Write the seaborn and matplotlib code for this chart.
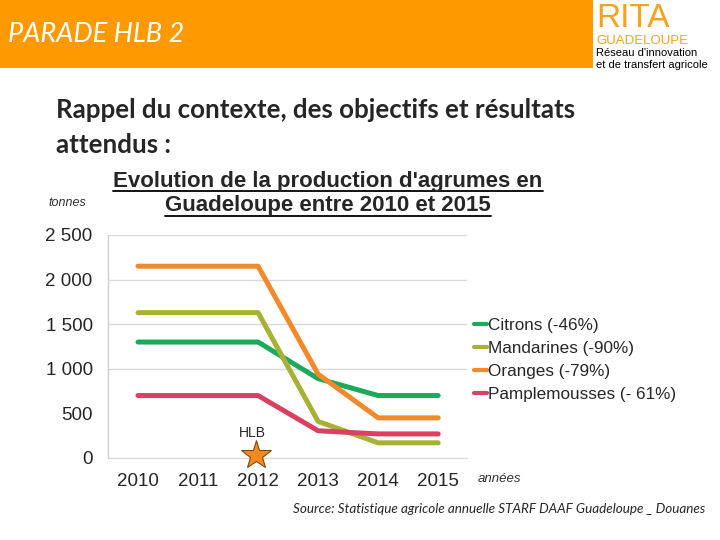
import matplotlib
matplotlib.use("Agg")
import matplotlib.pyplot as plt
from matplotlib.patches import Rectangle
from matplotlib.lines import Line2D
import seaborn as sns
import pandas as pd

years = [2010, 2011, 2012, 2013, 2014, 2015]
citrons = [1300, 1300, 1300, 890, 700, 700]
mandarines = [1630, 1630, 1630, 410, 170, 170]
oranges = [2150, 2150, 2150, 940, 450, 450]
pamplemousses = [700, 700, 700, 305, 270, 270]
series_names = ["Citrons (-46%)", "Mandarines (-90%)", "Oranges (-79%)", "Pamplemousses (- 61%)"]
colors = ["#1BA95C", "#A7B135", "#F2892A", "#DB3F62"]
ytick_values = [0, 500, 1000, 1500, 2000, 2500]
ytick_labels = ["0", "500", "1 000", "1 500", "2 000", "2 500"]
grid_values = [1000, 1500, 2000, 2500]
hlb_year = 2012

rows = []
for name, vals in zip(series_names, [citrons, mandarines, oranges, pamplemousses]):
    for y, v in zip(years, vals):
        rows.append({"year": y, "value": v, "series": name})
df = pd.DataFrame(rows)

sns.set_theme(style="white")
plt.rcParams["font.family"] = ["Liberation Sans", "DejaVu Sans"]

fig = plt.figure(figsize=(7.2, 5.4), dpi=100)
fig.patch.set_facecolor("white")

# header band
fig.patches.append(Rectangle((0, 1 - 68 / 540), 593 / 720, 68 / 540,
                             transform=fig.transFigure, facecolor="#FF9900",
                             edgecolor="none", zorder=0))
fig.text(8 / 720, 1 - 35 / 540, "PARADE HLB 2", color="white", fontsize=19.5,
         family="Lato", style="italic", va="center", ha="left")

# logo
fig.text(596 / 720, 1 - 27 / 540, "RITA", color="#F7A21B", fontsize=24,
         family="Liberation Sans", va="baseline", ha="left")
fig.text(596 / 720, 1 - 44 / 540, "GUADELOUPE", color="#F7A21B", fontsize=9.5,
         family="Liberation Sans", va="baseline", ha="left")
fig.text(596 / 720, 1 - 56 / 540, "Réseau d'innovation", color="black", fontsize=8,
         family="Liberation Sans", va="baseline", ha="left")
fig.text(596 / 720, 1 - 68 / 540, "et de transfert agricole", color="black", fontsize=8,
         family="Liberation Sans", va="baseline", ha="left")

fig.text(56 / 720, 1 - 110 / 540, "Rappel du contexte, des objectifs et résultats",
         fontsize=18.6, family="Lato", fontweight="bold", va="center", ha="left")
fig.text(56 / 720, 1 - 145 / 540, "attendus :",
         fontsize=18.6, family="Lato", fontweight="bold", va="center", ha="left")

t1 = fig.text(328 / 720, 1 - 181 / 540, "Evolution de la production d'agrumes en",
              fontsize=16, fontweight="bold", va="center", ha="center")
t2 = fig.text(328 / 720, 1 - 206 / 540, "Guadeloupe entre 2010 et 2015",
              fontsize=16, fontweight="bold", va="center", ha="center")

ax = fig.add_axes([108 / 720, 1 - 458 / 540, (467 - 108) / 720, (458 - 235) / 540])
sns.lineplot(data=df, x="year", y="value", hue="series", palette=colors,
             linewidth=3.6, ax=ax, legend=False)
ax.set_xlim(2009.5, 2015.48)
ax.set_ylim(0, 2500)
ax.set_xticks(years)
ax.set_xticklabels([str(y) for y in years], fontsize=13.5)
ax.set_yticks(ytick_values)
ax.set_yticklabels(ytick_labels, fontsize=13.5)
ax.tick_params(axis="both", length=0)
ax.tick_params(axis="y", pad=11)
ax.tick_params(axis="x", pad=11)
ax.set_xlabel("")
ax.set_ylabel("")
for gv in grid_values:
    ax.axhline(gv, color="#D9D9D9", linewidth=1, zorder=0)
for side in ["top", "right"]:
    ax.spines[side].set_visible(False)
ax.spines["left"].set_color("#D0D0D0")
ax.spines["bottom"].set_color("#D9D9D9")
ax.spines["left"].set_linewidth(1)
ax.spines["bottom"].set_linewidth(1)

# HLB marker
ax.plot([hlb_year - 0.04], [30], marker="*", markersize=22, color="#F7881F",
        markeredgecolor="#7A4A10", markeredgewidth=0.8, clip_on=False, zorder=5)
ax.text(hlb_year - 0.09, 280, "HLB", fontsize=10, ha="center", va="center")

handles = [Line2D([0], [0], color=c, linewidth=3) for c in colors]
fig.legend(handles, series_names, loc="center left",
           bbox_to_anchor=(474 / 720, 1 - 360 / 540), frameon=False,
           fontsize=12.3, handlelength=0.75, handletextpad=0.05, labelspacing=0.45,
           borderpad=0, borderaxespad=0)

fig.text(48 / 720, 1 - 203 / 540, "tonnes", fontsize=9, style="italic",
         color="#333333", va="center", ha="left")
fig.text(478 / 720, 1 - 479 / 540, "années", fontsize=9.5, style="italic",
         color="#333333", va="center", ha="left")
fig.text(705 / 720, 1 - 509 / 540,
         "Source: Statistique agricole annuelle STARF DAAF Guadeloupe _ Douanes",
         fontsize=9.7, family="Lato", style="italic", va="center", ha="right")

# underline title
fig.canvas.draw()
r = fig.canvas.get_renderer()
for t in (t1, t2):
    bb = t.get_window_extent(r)
    W, H = fig.bbox.width, fig.bbox.height
    yline = (bb.y0 + 0.5) / H
    fig.add_artist(Line2D([bb.x0 / W, bb.x1 / W], [yline, yline],
                          transform=fig.transFigure, color="black", linewidth=1.3))

fig.savefig("out.png", dpi=100)
